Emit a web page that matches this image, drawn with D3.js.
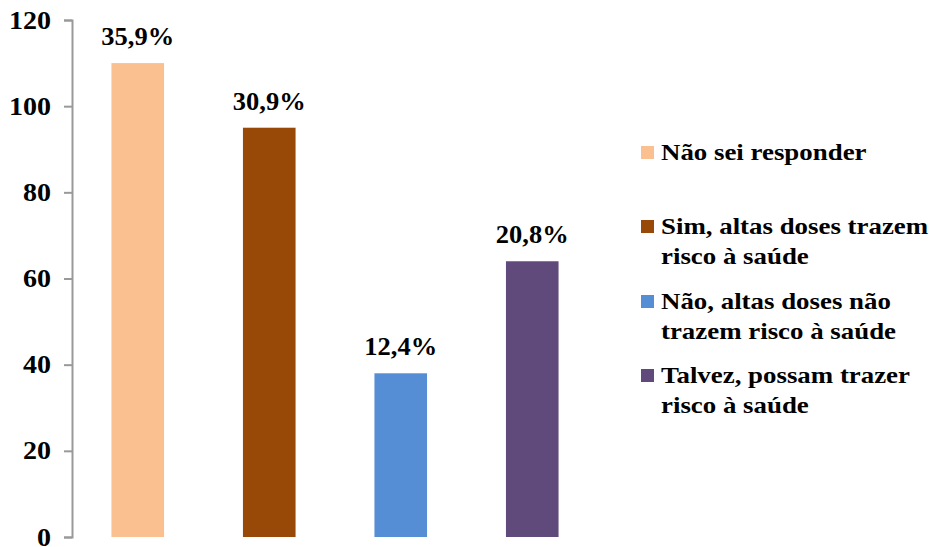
<!DOCTYPE html>
<html>
<head>
<meta charset="utf-8">
<script src="https://cdn.jsdelivr.net/npm/d3@7"></script>
<style>
  html, body { margin: 0; padding: 0; background: #fff; }
  svg { display: block; font-family: "Liberation Serif", "Times New Roman", serif; font-weight: bold; }
</style>
</head>
<body>
<svg id="chart" width="929" height="547"></svg>
<script>
// Answers and respondent counts
const categories = [
  "Não sei responder",
  "Sim, altas doses trazem risco à saúde",
  "Não, altas doses não trazem risco à saúde",
  "Talvez, possam trazer risco à saúde"
];
const legendLines = [
  ["Não sei responder"],
  ["Sim, altas doses trazem", "risco à saúde"],
  ["Não, altas doses não", "trazem risco à saúde"],
  ["Talvez, possam trazer", "risco à saúde"]
];
const counts = [110, 95, 38, 64];
const percentLabels = ["35,9%", "30,9%", "12,4%", "20,8%"];
const yTicks = [0, 20, 40, 60, 80, 100, 120];
const colors = ["#FAC090", "#984807", "#558ED5", "#604A7B"];

const svg = d3.select("#chart");

const x = d3.scaleBand()
  .domain(categories)
  .range([72, 598])
  .paddingInner(0.6)
  .paddingOuter(0.3);

const y = d3.scaleLinear()
  .domain([0, 120])
  .range([537, 20]);

// Vertical axis
const yAxis = svg.append("g")
  .attr("transform", "translate(72,0)")
  .call(d3.axisLeft(y).tickValues(yTicks).tickSize(8).tickPadding(13).tickFormat(d3.format("d")));
yAxis.select(".domain").attr("stroke", "#999").attr("stroke-width", 2);
yAxis.selectAll(".tick line").attr("stroke", "#999").attr("stroke-width", 2);
// Wide bold tick numbers: draw the label, then widen it about its right edge
yAxis.selectAll(".tick text")
  .attr("fill", "#000")
  .attr("x", null)
  .attr("transform", "translate(-21,0) scale(1.12,1)")
  .style("font-family", "'Liberation Serif', 'Times New Roman', serif")
  .style("font-weight", "bold")
  .style("font-size", "25px");

// Bars
svg.append("g").selectAll("rect")
  .data(categories)
  .join("rect")
  .attr("x", d => x(d))
  .attr("width", x.bandwidth())
  .attr("y", (d, i) => y(counts[i]))
  .attr("height", (d, i) => y(0) - y(counts[i]))
  .attr("fill", (d, i) => colors[i]);

// Percentage labels above bars
svg.append("g").selectAll("text")
  .data(categories)
  .join("text")
  .attr("transform", (d, i) => `translate(${x(d) + x.bandwidth() / 2},${y(counts[i]) - 18}) scale(1.06,1)`)
  .attr("text-anchor", "middle")
  .style("font-size", "25px")
  .attr("fill", "#000")
  .text((d, i) => percentLabels[i]);

// Legend
const legendTops = [146, 220, 295, 369];
const legend = svg.append("g");
legendLines.forEach((lines, i) => {
  const g = legend.append("g").attr("transform", `translate(641,${legendTops[i]})`);
  g.append("rect").attr("width", 13).attr("height", 13).attr("fill", colors[i]);
  lines.forEach((line, j) => {
    g.append("text")
      .attr("transform", `translate(20,${14 + j * 30}) scale(1.12,1)`)
      .style("font-size", "24px")
      .attr("fill", "#000")
      .text(line);
  });
});
</script>
</body>
</html>
